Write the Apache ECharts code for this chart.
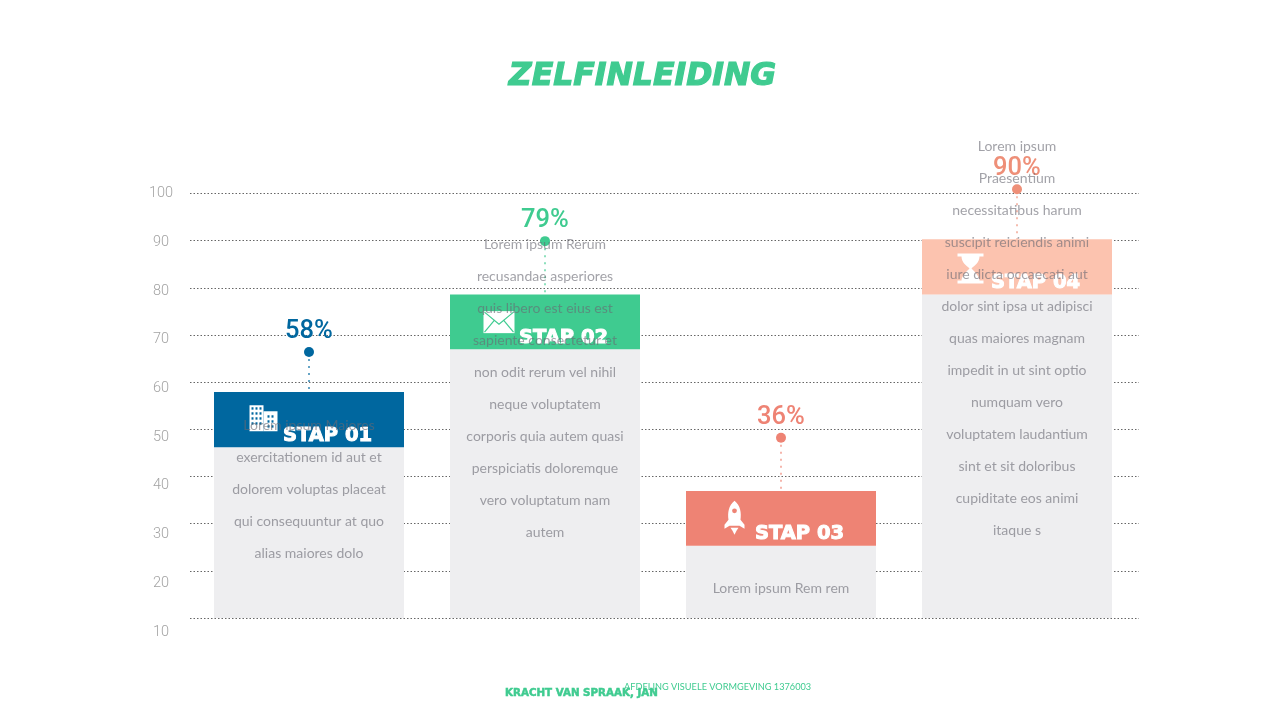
<!DOCTYPE html>
<html>
<head>
<meta charset="utf-8">
<title>Zelfinleiding</title>
<script src="https://cdn.jsdelivr.net/npm/echarts@6/dist/echarts.min.js"></script>
<style>
html, body { margin: 0; padding: 0; background: #fff; }
#main { width: 1280px; height: 720px; }
</style>
</head>
<body>
<div id="main"></div>
<script>
var categories = ['STAP 01', 'STAP 02', 'STAP 03', 'STAP 04'];
var yTicks = [10, 20, 30, 40, 50, 60, 70, 80, 90, 100];
var percentLabels = ['58%', '79%', '36%', '90%'];
// bovenkant balk, onderkant gekleurde kop, hoogte van de pin
var barTop = [57.9, 78.6, 36.9, 90.3];
var headBottom = [46.2, 67, 25.3, 78.6];
var pinValue = [66.4, 89.9, 48.2, 100.9];
var textStart = [50.9, 89.1, 16.2, 110];
var bodyLines = [
  ['Lorem ipsum Maiores', 'exercitationem id aut et', 'dolorem voluptas placeat', 'qui consequuntur at quo', 'alias maiores dolo'],
  ['Lorem ipsum Rerum', 'recusandae asperiores', 'quis libero est eius est', 'sapiente consectetur et', 'non odit rerum vel nihil', 'neque voluptatem', 'corporis quia autem quasi', 'perspiciatis doloremque', 'vero voluptatum nam', 'autem'],
  ['Lorem ipsum Rem rem'],
  ['Lorem ipsum', 'Praesentium', 'necessitatibus harum', 'suscipit reiciendis animi', 'iure dicta occaecati aut', 'dolor sint ipsa ut adipisci', 'quas maiores magnam', 'impedit in ut sint optio', 'numquam vero', 'voluptatem laudantium', 'sint et sit doloribus', 'cupiditate eos animi', 'itaque s']
];
var colorList = ['#00679f', '#3fcb90', '#ee8374', '#fcc3af'];
var labelColors = ['#00679f', '#3fcb90', '#ee8374', '#ee8f78'];
var bodyColor = '#eeeef0';

var headHeight = barTop.map(function (v, i) { return v - headBottom[i]; });

var chart = echarts.init(document.getElementById('main'));

// iconen, x/y relatief aan het midden van de balk en de onderkant van de kop
function iconBuilding(cx, by, color) {
  var kids = [
    { type: 'rect', shape: { x: cx - 60, y: by - 42, width: 14, height: 26 }, style: { fill: '#fff' } },
    { type: 'rect', shape: { x: cx - 46, y: by - 36, width: 14, height: 20 }, style: { fill: '#fff' } }
  ];
  for (var r = 0; r < 4; r++) {
    for (var c = 0; c < 3; c++) {
      kids.push({ type: 'rect', shape: { x: cx - 58 + c * 4, y: by - 40 + r * 5, width: 2, height: 2.4 }, style: { fill: color } });
    }
  }
  for (var r2 = 0; r2 < 3; r2++) {
    for (var c2 = 0; c2 < 2; c2++) {
      kids.push({ type: 'rect', shape: { x: cx - 42 + c2 * 4, y: by - 32 + r2 * 5, width: 2, height: 2.4 }, style: { fill: color } });
    }
  }
  return kids;
}
function iconEnvelope(cx, by, color) {
  var x = cx - 62, y = by - 38, w = 31, h = 22;
  return [
    { type: 'rect', shape: { x: x, y: y, width: w, height: h }, style: { fill: '#fff' } },
    { type: 'polyline', shape: { points: [[x + 1, y + 1], [x + w / 2, y + 13], [x + w - 1, y + 1]] }, style: { fill: null, stroke: color, lineWidth: 1.2 } },
    { type: 'line', shape: { x1: x + 1, y1: y + h - 1, x2: x + 11, y2: y + 9 }, style: { stroke: color, lineWidth: 1.2 } },
    { type: 'line', shape: { x1: x + w - 1, y1: y + h - 1, x2: x + w - 11, y2: y + 9 }, style: { stroke: color, lineWidth: 1.2 } }
  ];
}
function iconRocket(cx, by, color) {
  var x = cx - 57, y = by - 45;
  return [
    { type: 'path', shape: { pathData: 'M10 0 C16 5 17 12 16 19 L20 24 L20 28 L15 25 L5 25 L0 28 L0 24 L4 19 C3 12 4 5 10 0 Z M6 27 L14 27 L12 30 L10 34 L8 30 Z', x: x, y: y, width: 20, height: 34 }, style: { fill: '#fff' } },
    { type: 'circle', shape: { cx: x + 10, cy: y + 10, r: 2.4 }, style: { fill: color } }
  ];
}
function iconHourglass(cx, by) {
  var x = cx - 60, y = by - 41;
  return [
    { type: 'path', shape: { pathData: 'M0 0 L26 0 L26 3 L22 3 C22 9 17 12 14 15 C17 18 22 23 22 27 L26 27 L26 30 L0 30 L0 27 L4 27 C4 23 9 18 12 15 C9 12 4 9 4 3 L0 3 Z', x: x, y: y, width: 26, height: 30 }, style: { fill: '#fff' } }
  ];
}
var iconFns = [iconBuilding, iconEnvelope, iconRocket, iconHourglass];

var option = {
  animation: false,
  textStyle: { fontFamily: 'Lato' },
  title: [
    { text: 'ZELFINLEIDING', left: 642.5, top: 61, padding: 0, textAlign: 'center', textStyle: { color: '#3fcb90', fontFamily: 'DejaVu Sans', fontStyle: 'italic', fontWeight: 'bold', fontSize: 31.5, textBorderColor: '#3fcb90', textBorderWidth: 1.2 } },
    { text: 'KRACHT VAN SPRAAK, JAN', left: 505, top: 688, padding: 0, textStyle: { color: '#3fcb90', fontFamily: 'DejaVu Sans', fontWeight: 'bold', fontSize: 10.3, textBorderColor: '#3fcb90', textBorderWidth: 0.5 } },
    { text: 'AFDELING VISUELE VORMGEVING 1376003', left: 624, top: 683, padding: 0, textStyle: { color: '#3fcb90', fontFamily: 'Lato', fontWeight: 400, fontSize: 9.2 } }
  ],
  grid: [
    { left: 190, top: 193.5, width: 949, height: 438.5 }, // aslabels, lopen verder door dan het raster
    { left: 190, top: 193.5, width: 949, height: 424.5 }, // rasterlijnen
    { left: 191, top: 193.5, width: 944, height: 424.5 }  // balken
  ],
  xAxis: [
    { type: 'category', gridIndex: 0, data: categories, show: false },
    { type: 'category', gridIndex: 1, data: categories, show: false },
    { type: 'category', gridIndex: 2, data: categories, show: false }
  ],
  yAxis: [
    {
      type: 'value', gridIndex: 0, min: yTicks[0], max: yTicks[yTicks.length - 1], interval: 10,
      axisLine: { show: false }, axisTick: { show: false },
      axisLabel: { color: '#a3a3a3', fontFamily: 'Roboto', fontWeight: 300, fontSize: 14.5, align: 'center', margin: 29 },
      splitLine: { show: false }
    },
    {
      type: 'value', gridIndex: 1, min: yTicks[0], max: yTicks[yTicks.length - 1], interval: 10,
      axisLine: { show: false }, axisTick: { show: false }, axisLabel: { show: false },
      splitLine: { show: true, lineStyle: { color: '#666', type: [1.5, 2], width: 1 } }
    },
    { type: 'value', gridIndex: 2, min: yTicks[0], max: yTicks[yTicks.length - 1], interval: 10, show: false, splitLine: { show: false } }
  ],
  series: [
    {
      name: 'romp', type: 'bar', xAxisIndex: 2, yAxisIndex: 2, stack: 'balk', barWidth: 190,
      data: headBottom, itemStyle: { color: bodyColor }
    },
    {
      name: 'kop', type: 'bar', xAxisIndex: 2, yAxisIndex: 2, stack: 'balk', barWidth: 190,
      data: headHeight,
      itemStyle: { color: function (params) { return colorList[params.dataIndex]; } }
    },
    {
      // pin met stippellijn en percentage
      name: 'pin', type: 'custom', xAxisIndex: 2, yAxisIndex: 2, z: 4,
      data: pinValue.map(function (v, i) { return [i, v, barTop[i]]; }),
      renderItem: function (params, api) {
        var i = params.dataIndex;
        var p = api.coord([i, api.value(1)]);
        var base = api.coord([i, api.value(2)]);
        return {
          type: 'group',
          children: [
            { type: 'line', shape: { x1: p[0], y1: p[1] + 7, x2: p[0], y2: base[1] }, style: { stroke: labelColors[i], lineWidth: 2, lineDash: [2, 5], opacity: 0.6 } },
            { type: 'circle', shape: { cx: p[0], cy: p[1], r: 5 }, style: { fill: labelColors[i] } },
            { type: 'text', style: { text: percentLabels[i], x: p[0], y: p[1] - 20.5, align: 'center', verticalAlign: 'middle', fill: labelColors[i], font: '500 25.5px Roboto' } }
          ]
        };
      }
    },
    {
      // icoon en STAP-kop
      name: 'kopinhoud', type: 'custom', xAxisIndex: 2, yAxisIndex: 2, z: 5,
      data: headBottom.map(function (v, i) { return [i, v]; }),
      renderItem: function (params, api) {
        var i = params.dataIndex;
        var p = api.coord([i, api.value(1)]);
        var kids = iconFns[i](p[0] + 0.5, p[1], colorList[i]);
        kids.push({ type: 'text', style: { text: categories[i], x: p[0] + 18.5, y: p[1] - 11.5, align: 'center', verticalAlign: 'middle', fill: '#fff', stroke: '#fff', lineWidth: 1, font: 'bold 19.5px "DejaVu Sans"' } });
        return { type: 'group', children: kids };
      }
    },
    {
      name: 'tekst', type: 'custom', xAxisIndex: 2, yAxisIndex: 2, z: 6,
      data: textStart.map(function (v, i) { return [i, v]; }),
      renderItem: function (params, api) {
        var i = params.dataIndex;
        var p = api.coord([i, api.value(1)]);
        return {
          type: 'text',
          style: {
            text: bodyLines[i].join('\n'), x: p[0], y: p[1] - 16, align: 'center', verticalAlign: 'top',
            lineHeight: 32, fill: 'rgba(105,105,115,0.62)', font: '400 14px Lato'
          }
        };
      }
    }
  ]
};
chart.setOption(option);
</script>
</body>
</html>
